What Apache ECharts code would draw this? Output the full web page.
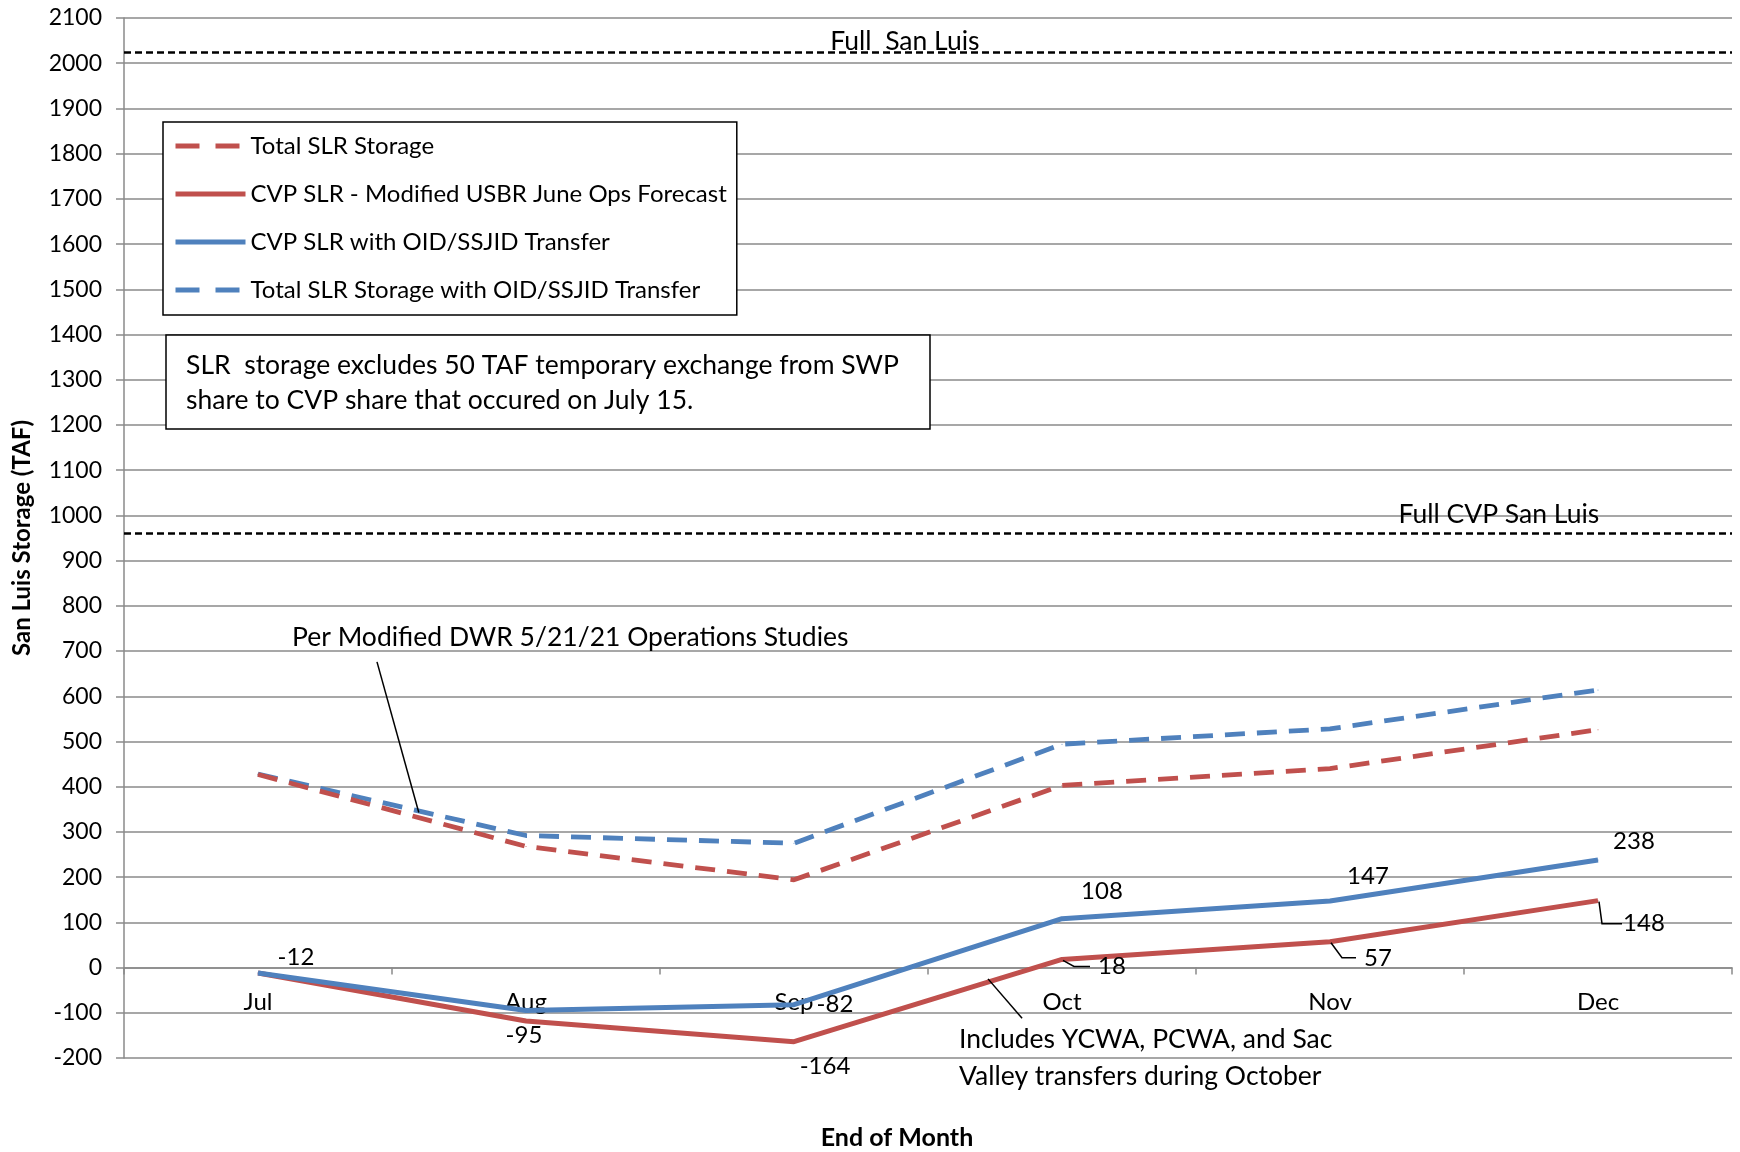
<!DOCTYPE html>
<html><head><meta charset="utf-8">
<script src="https://cdn.jsdelivr.net/npm/echarts@6/dist/echarts.min.js"></script>
<style>html,body{margin:0;padding:0;background:#fff}#c{width:1740px;height:1152px}</style>
</head><body><div id="c"></div>
<script>
// ---- data ----
const months = ['Jul', 'Aug', 'Sep', 'Oct', 'Nov', 'Dec'];
const totalSLR = [427, 268, 194, 403, 440, 526];
const cvpSLR = [-12, -118, -164, 18, 57, 148];
const cvpTransfer = [-12, -95, -82, 108, 147, 238];
const totalTransfer = [428, 292, 275, 494, 528, 614];
const yMin = -200, yMax = 2100, yStep = 100;
const fullSanLuis = 2024;
const fullCVP = 961;
const seriesNames = ['Total SLR Storage', 'CVP SLR - Modified USBR June Ops Forecast', 'CVP SLR with OID/SSJID Transfer', 'Total SLR Storage with OID/SSJID Transfer'];
const redLabelIdx = [2, 3, 4, 5];
const blueLabelIdx = [0, 1, 2, 3, 4, 5];

// ---- style ----
const FONT = 'Lato, "Open Sans", sans-serif';
const RED = '#C0504D', BLUE = '#4F81BD', GRID = '#8a8a8a';
const GRID_TOP = 18, GRID_BOTTOM = 94, H = 1152;
const gridH = H - GRID_TOP - GRID_BOTTOM;
const zeroOffset = -((0 - yMin) / (yMax - yMin)) * gridH;
const blueOff = [[38, -16], [-2, 25], [41, 0], [40, -27], [38, -25], [36, -19]];
const redOff = [null, null, [31, 25], [50, 7], [48, 16], [46, 23]];
const legendDash = [24, 16];

function withLabels(arr, idxs, offs) {
  return arr.map((v, i) => idxs.includes(i)
    ? { value: v, label: { show: true, position: 'inside', offset: offs[i] } }
    : { value: v });
}
const labelBase = { show: false, color: '#000', fontSize: 24, fontFamily: FONT, formatter: '{c}' };

const chart = echarts.init(document.getElementById('c'));
const option = {
  animation: false,
  backgroundColor: '#fff',
  textStyle: { fontFamily: FONT },
  grid: { left: 124, right: 8, top: GRID_TOP, bottom: GRID_BOTTOM, containLabel: false },
  legend: {
    orient: 'vertical', left: 163, top: 122,
    data: [
      { name: seriesNames[0], lineStyle: { type: legendDash } },
      { name: seriesNames[1] },
      { name: seriesNames[2] },
      { name: seriesNames[3], lineStyle: { type: legendDash } }
    ],
    itemWidth: 70, itemHeight: 14, itemGap: 24,
    padding: [12, 10, 13, 10],
    borderColor: '#000', borderWidth: 1.5,
    backgroundColor: '#fff',
    textStyle: { fontSize: 24, fontFamily: FONT, color: '#000', lineHeight: 22 },
    itemStyle: { opacity: 0 },
    lineStyle: { width: 5 }
  },
  xAxis: {
    type: 'category', data: months, boundaryGap: true,
    offset: zeroOffset,
    axisLine: { onZero: false, lineStyle: { color: GRID, width: 1.5 } },
    axisTick: { show: true, length: 7, lineStyle: { color: GRID, width: 1.5 } },
    axisLabel: { color: '#000', fontSize: 24, fontFamily: FONT, margin: 23 },
    splitLine: { show: false }
  },
  yAxis: {
    type: 'value', min: yMin, max: yMax, interval: yStep,
    name: 'San Luis Storage (TAF)', nameLocation: 'middle', nameGap: 90,
    nameTextStyle: { fontSize: 24, fontWeight: 'bold', fontFamily: FONT, color: '#000' },
    axisLine: { show: true, lineStyle: { color: GRID, width: 1.5 } },
    axisTick: { show: true, length: 8, lineStyle: { color: GRID, width: 1.5 } },
    axisLabel: { color: '#000', fontSize: 23, fontFamily: FONT, margin: 22, formatter: (v) => String(v) },
    splitLine: { show: true, lineStyle: { color: GRID, width: 1.5 } }
  },
  series: [
    {
      name: seriesNames[0], type: 'line', data: totalSLR,
      symbol: 'circle', symbolSize: 1, showSymbol: true,
      itemStyle: { color: RED },
      lineStyle: { color: RED, width: 4.8, type: [20, 12] },
      z: 3,
      markLine: {
        silent: true, symbol: 'none', label: { show: false },
        lineStyle: { color: '#000', type: [7, 4], width: 2.5 },
        data: [{ yAxis: fullSanLuis }, { yAxis: fullCVP }]
      }
    },
    {
      name: seriesNames[1], type: 'line', data: withLabels(cvpSLR, redLabelIdx, redOff),
      symbol: 'circle', symbolSize: 1, showSymbol: true,
      itemStyle: { color: RED },
      lineStyle: { color: RED, width: 5 },
      label: labelBase, z: 3
    },
    {
      name: seriesNames[2], type: 'line', data: withLabels(cvpTransfer, blueLabelIdx, blueOff),
      symbol: 'circle', symbolSize: 1, showSymbol: true,
      itemStyle: { color: BLUE },
      lineStyle: { color: BLUE, width: 5 },
      label: labelBase, z: 4
    },
    {
      name: seriesNames[3], type: 'line', data: totalTransfer,
      symbol: 'circle', symbolSize: 1, showSymbol: true,
      itemStyle: { color: BLUE },
      lineStyle: { color: BLUE, width: 4.8, type: [20, 12] },
      z: 2
    }
  ]
};
chart.setOption(option);

// ---- annotations placed in data space ----
function px(x, y) {
  const i0 = Math.floor(x), f = x - i0;
  const a = chart.convertToPixel({ xAxisIndex: 0, yAxisIndex: 0 }, [i0, y]);
  const b = chart.convertToPixel({ xAxisIndex: 0, yAxisIndex: 0 }, [i0 + 1, y]);
  return [a[0] + (b[0] - a[0]) * f, a[1]];
}
const F = '26.5px ' + FONT;
const txt = (x, y, text, extra) => ({
  type: 'text', x: x, y: y, z: 6,
  style: Object.assign({ text: text, fill: '#000', font: F, textVerticalAlign: 'middle' }, extra || {})
});
const seg = (p, q) => ({ type: 'line', shape: { x1: p[0], y1: p[1], x2: q[0], y2: q[1] }, style: { stroke: '#000', lineWidth: 1.5 }, z: 10 });
const poly = (pts) => ({ type: 'polyline', shape: { points: pts }, style: { stroke: '#000', lineWidth: 1.5, fill: null }, z: 10 });

const g = [];
let p = px(2.414, 2048); g.push(txt(p[0], p[1], 'Full  San Luis', { textAlign: 'center' }));
p = px(4.63, 1003); g.push(txt(p[0], p[1], 'Full CVP San Luis', { textAlign: 'center' }));
p = px(0.127, 731); g.push(txt(p[0], p[1], 'Per Modified DWR 5/21/21 Operations Studies'));
g.push(seg(px(0.444, 676), px(0.6, 343)));
p = px(2.616, -160); g.push(txt(p[0], p[1], 'Includes YCWA, PCWA, and Sac'));
p = px(2.616, -240); g.push(txt(p[0], p[1], 'Valley transfers during October'));
g.push(seg(px(2.724, -25), px(2.851, -112)));
[3, 4, 5].forEach((i) => {
  const a = chart.convertToPixel({ xAxisIndex: 0, yAxisIndex: 0 }, [i, cvpSLR[i]]);
  const o = redOff[i];
  const ly = a[1] + o[1];
  const lx = a[0] + o[0] - 22;
  g.push(poly([[a[0] + 1, a[1] + 1], [a[0] + (i === 5 ? 4 : 12), ly], [lx, ly]]));
});
g.push({
  type: 'rect', shape: { x: 166, y: 335, width: 764, height: 94 },
  style: { fill: '#fff', stroke: '#000', lineWidth: 1.5 }, z: 5
});
g.push(txt(186, 365, 'SLR  storage excludes 50 TAF temporary exchange from SWP'));
g.push(txt(186, 400, 'share to CVP share that occured on July 15.'));
g.push({ type: 'text', x: 897, y: 1138, style: { text: 'End of Month', fill: '#000', font: 'bold 25px ' + FONT, textAlign: 'center', textVerticalAlign: 'middle' } });

chart.setOption({ graphic: g });
</script>
</body></html>
